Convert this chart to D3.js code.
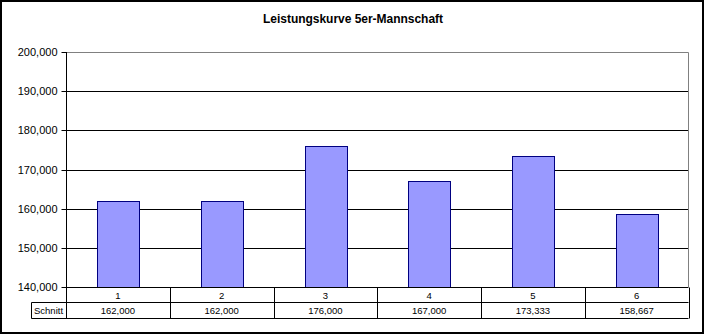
<!DOCTYPE html>
<html><head><meta charset="utf-8">
<script src="https://cdn.jsdelivr.net/npm/d3@7"></script>
<style>body{margin:0;background:#fff}svg{display:block}text{font-family:"Liberation Sans",Arial,sans-serif}</style>
</head><body>
<script>
const categories = ["1","2","3","4","5","6"];
const values = [162000,162000,176000,167000,173333,158667];
const valueLabels = ["162,000","162,000","176,000","167,000","173,333","158,667"];
const yTicks = [140000,150000,160000,170000,180000,190000,200000];
const seriesName = "Schnitt";
const title = "Leistungskurve 5er-Mannschaft";

const W=705,H=335;
const svg=d3.select("body").append("svg").attr("width",W).attr("height",H);
svg.append("rect").attr("x",1).attr("y",1).attr("width",702).attr("height",332).attr("fill","#fff").attr("stroke","#000").attr("stroke-width",2);

const L=66,R=688.5,T=52,B=287;
const x=d3.scaleBand().domain(categories).range([L,R]);
const y=d3.scaleLinear().domain([140000,200000]).range([B,T]);

svg.append("text").attr("x",353).attr("y",23).attr("text-anchor","middle").attr("font-size",12).attr("font-weight","bold").attr("textLength",180).text(title);

// grid
svg.append("g").selectAll("line").data(yTicks.filter(t=>t>140000&&t<200000)).join("line")
 .attr("x1",L).attr("x2",R).attr("y1",d=>Math.round(y(d))+0.5).attr("y2",d=>Math.round(y(d))+0.5).attr("stroke","#000");
// plot border top/right gray
svg.append("path").attr("d",`M${L},${T+0.5}H${R}V${B}`).attr("fill","none").attr("stroke","#808080");

// bars
const bw=x.bandwidth()*0.4;
svg.append("g").selectAll("rect").data(values).join("rect")
 .attr("x",(d,i)=>Math.round(x(categories[i])+x.bandwidth()/2-bw/2)+0.5)
 .attr("y",d=>Math.round(y(d))+0.5)
 .attr("width",Math.round(bw))
 .attr("height",d=>B-Math.round(y(d)))
 .attr("fill","#9999FF").attr("stroke","#000080");

// y axis
const ax=svg.append("g").attr("transform",`translate(${L+0.5},0)`)
 .call(d3.axisLeft(y).tickValues(yTicks).tickSize(5).tickPadding(4).tickFormat(d3.format(",")));
ax.select(".domain").remove();
ax.append("line").attr("x1",0).attr("x2",0).attr("y1",T).attr("y2",B).attr("stroke","#000");
ax.selectAll(".tick line").attr("stroke","#000");
ax.selectAll(".tick text").attr("font-size",11).attr("fill","#000").attr("font-family","Liberation Sans, Arial, sans-serif");
ax.selectAll(".tick").attr("transform",d=>`translate(0,${Math.round(y(d))+0.5})`);

// data table
const r1=287.5,r2=302.5,r3=318.5,tl=31.5;
const g=svg.append("g").attr("stroke","#000").attr("fill","none");
g.append("line").attr("x1",L).attr("x2",R).attr("y1",r1).attr("y2",r1);
g.append("line").attr("x1",tl).attr("x2",R).attr("y1",r2).attr("y2",r2);
g.append("line").attr("x1",tl).attr("x2",R).attr("y1",r3).attr("y2",r3);
g.append("line").attr("x1",tl).attr("x2",tl).attr("y1",r2).attr("y2",r3);
const edges=categories.map(c=>x(c)).concat([R]);
g.selectAll("line.v").data(edges).join("line").attr("class","v")
 .attr("x1",d=>Math.round(d)+0.5).attr("x2",d=>Math.round(d)+0.5).attr("y1",r1).attr("y2",r3);
svg.append("g").selectAll("text").data(categories).join("text")
 .attr("x",d=>x(d)+x.bandwidth()/2).attr("y",299).attr("text-anchor","middle").attr("font-size",9.5).text(d=>d);
svg.append("g").selectAll("text").data(valueLabels).join("text")
 .attr("x",(d,i)=>x(categories[i])+x.bandwidth()/2).attr("y",314).attr("text-anchor","middle").attr("font-size",9.5).text(d=>d);
svg.append("text").attr("x",34).attr("y",314).attr("font-size",9.5).text(seriesName);
</script>
</body></html>
